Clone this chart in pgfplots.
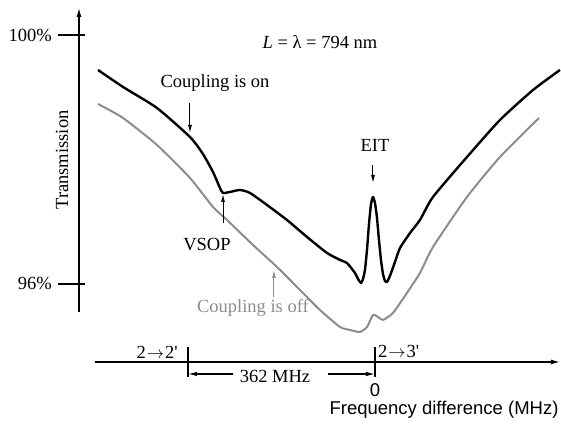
\documentclass[border=0pt]{standalone}
\usepackage{pgfplots}
\pgfplotsset{compat=1.18}
\usepackage{fontspec}
\setmainfont{Liberation Serif}
\setsansfont{Liberation Sans}
\usetikzlibrary{arrows.meta}
\definecolor{offgray}{HTML}{8C8C8C}
\newcommand{\tr}[2]{#1\kern1pt$\rightarrow$\kern1pt#2\textquotesingle}
\begin{document}
\begin{tikzpicture}[font=\fontsize{18.5}{22}\selectfont]
\begin{axis}[
  hide axis, clip=false,
  x=0.5166pt, y=62.25pt,
  xmin=-725.9, xmax=360.1, ymin=93.719, ymax=100.562,
]
% coupling on
\addplot[black, line width=2.4pt, line join=round, smooth, tension=0.35] coordinates {
(-536.2,99.438) (-487.8,99.165) (-422.0,98.827) (-358.1,98.361) (-333.0,98.088)
(-313.6,97.799) (-300.1,97.542) (-294.2,97.462) (-280.7,97.478) (-261.3,97.510)
(-242.0,97.462) (-209.1,97.269) (-170.4,97.028) (-131.6,96.755) (-92.9,96.498)
(-67.8,96.386) (-54.2,96.337) (-38.7,96.177) (-32.9,96.080) (-27.1,96.016)
(-23.2,96.080) (-19.4,96.225) (-15.5,96.546) (-11.6,96.964) (-7.7,97.285)
(-3.9,97.398) (0,97.301) (3.9,97.060) (7.7,96.707) (11.6,96.386)
(15.5,96.161) (19.4,96.048) (23.2,96.032) (29.0,96.129) (38.7,96.354)
(48.4,96.578) (67.8,96.819) (87.1,97.028)
(112.3,97.398) (178.1,98.040) (242.0,98.635) (305.9,99.116) (358.1,99.438)
};
% coupling off
\addplot[offgray, line width=2pt, line join=round, smooth, tension=0.35] coordinates {
(-536.2,98.892) (-487.8,98.667) (-422.0,98.233) (-358.1,97.703) (-313.6,97.237)
(-286.5,97.028) (-236.2,96.627) (-189.7,96.273) (-145.2,95.904) (-106.5,95.582)
(-67.8,95.309) (-48.4,95.261) (-29.0,95.229) (-15.5,95.309) (-3.9,95.502)
(5.8,95.470) (15.5,95.422) (34.8,95.534) (61.9,95.856) (87.1,96.177)
(112.3,96.594) (178.1,97.398) (242.0,98.040) (317.5,98.667)
};
% axes
\draw[line width=1.3pt, -{Latex[length=9pt,width=5pt]}] (axis cs:-573.0,95.550) -- (axis cs:-573.0,100.434);
\draw[line width=1.3pt] (axis cs:-613.6,100) -- (axis cs:-561.4,100);
\draw[line width=1.3pt] (axis cs:-613.6,96) -- (axis cs:-561.4,96);
\node[anchor=east, inner sep=0pt] at (axis cs:-625.3,100) {100\%};
\node[anchor=east, inner sep=0pt] at (axis cs:-625.3,96) {96\%};
\node[rotate=90, inner sep=0pt] at (axis cs:-605.9,97.992) {Transmission};
\draw[line width=1.3pt, -{Latex[length=9pt,width=5pt]}] (axis cs:-542.0,94.747) -- (axis cs:358.0,94.747);
\draw[line width=1.3pt] (axis cs:-362,94.988) -- (axis cs:-362,94.506);
\draw[line width=1.3pt] (axis cs:0,94.988) -- (axis cs:0,94.506);
\node[anchor=east, inner sep=0pt] at (axis cs:-381.4,94.908) {\tr{2}{2}};
\node[anchor=west, inner sep=0pt] at (axis cs:5.8,94.908) {\tr{2}{3}};
\draw[line width=1.2pt, -{Latex[length=9pt,width=4.5pt]}] (axis cs:-274.9,94.554) -- (axis cs:-362,94.554);
\draw[line width=1.2pt, -{Latex[length=9pt,width=4.5pt]}] (axis cs:-91.0,94.554) -- (axis cs:0,94.554);
\node[inner sep=0pt] at (axis cs:-193.6,94.506) {362 MHz};
\node[inner sep=0pt, font=\sffamily\fontsize{18.5}{22}\selectfont] at (axis cs:0,94.297) {0};
\node[inner sep=0pt, font=\sffamily\fontsize{18.5}{22}\selectfont] at (axis cs:133.6,93.976) {Frequency difference (MHz)};
% annotations
\node[inner sep=0pt] at (axis cs:-106.5,99.888) {\textit{L} = λ = 794 nm};
\node[inner sep=0pt] at (axis cs:-309.7,99.229) {Coupling is on};
\draw[line width=1pt, -{Latex[length=8pt,width=4pt]}] (axis cs:-358.1,98.908) -- (axis cs:-358.1,98.426);
\node[inner sep=0pt] at (axis cs:-325.2,96.627) {VSOP};
\draw[line width=1pt, -{Latex[length=8pt,width=4pt]}] (axis cs:-294.2,96.980) -- (axis cs:-294.2,97.446);
\node[inner sep=0pt] at (axis cs:0,98.233) {EIT};
\draw[line width=1pt, -{Latex[length=8pt,width=4pt]}] (axis cs:-3.9,97.912) -- (axis cs:-3.9,97.623);
\node[inner sep=0pt, text=offgray] at (axis cs:-236.2,95.615) {Coupling is off};
\draw[offgray, line width=1pt, -{Latex[length=8pt,width=4pt]}] (axis cs:-195.5,95.791) -- (axis cs:-195.5,96.225);
\coordinate (BL) at (axis cs:-725.9,93.719);
\coordinate (TR) at (axis cs:360.1,100.562);
\end{axis}
\pgfresetboundingbox
\path[use as bounding box] (BL) rectangle (TR);
\end{tikzpicture}
\end{document}
